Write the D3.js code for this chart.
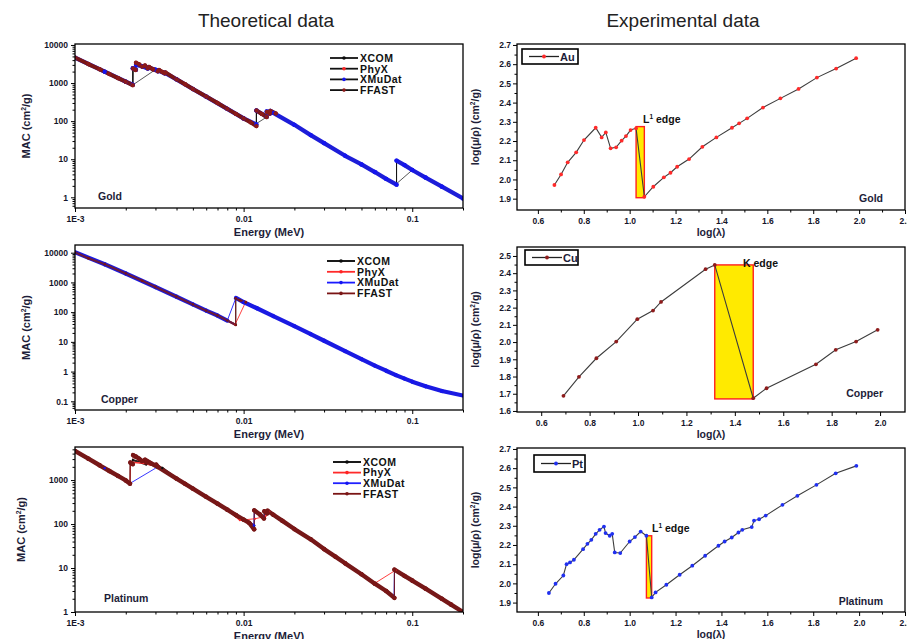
<!DOCTYPE html>
<html>
<head>
<meta charset="utf-8">
<script src="https://cdn.jsdelivr.net/npm/d3@7"></script>
<style>
  body { margin: 0; background: #fff; }
  text { font-family: "Liberation Sans", Arial, sans-serif; }
</style>
</head>
<body>
<script>
// ---------- data ----------
const seriesNames = ["XCOM", "PhyX", "XMuDat", "FFAST"];
const energyTicks = [0.001, 0.01, 0.1];
const energyTickLabels = ["1E-3", "0.01", "0.1"];

// gold, [energy MeV, MAC cm2/g]
const auXcom = [[0.001,4650],[0.0015,1985],[0.002,1085],[0.002206,890],[0.002206,2450],[0.002291,2250],[0.002291,3050],[0.0025,2750],[0.002743,2400],[0.002743,2600],[0.003,2250],[0.003148,2050],[0.003148,2150],[0.003425,1800],[0.003425,1870],[0.004,1250],[0.005,700],[0.006,441],[0.008,210],[0.01,118],[0.01192,82],[0.01192,190],[0.01373,131],[0.01373,180],[0.01435,160],[0.01435,186],[0.015,165],[0.02,80],[0.03,26.5],[0.04,12.3],[0.05,7.3],[0.06,4.6],[0.08,2.2],[0.08072,2.15],[0.08072,9.2],[0.1,5.2],[0.15,1.9],[0.2,0.93]];
const auPhyx = [[0.001,4650],[0.0015,1985],[0.002,1085],[0.0022,890],[0.003,2250],[0.004,1250],[0.005,700],[0.006,441],[0.008,210],[0.01,118],[0.0118,84],[0.015,165],[0.02,80],[0.03,26.5],[0.04,12.3],[0.05,7.3],[0.06,4.6],[0.08,2.2],[0.1,5.2],[0.15,1.9],[0.2,0.93]];
const auXmudat = [[0.001,4650],[0.0015,1985],[0.002,1085],[0.0022,900],[0.0022,2450],[0.0023,2250],[0.0023,3000],[0.0025,2750],[0.0027,2400],[0.0027,2600],[0.003,2250],[0.0031,2050],[0.0031,2150],[0.0034,1800],[0.0034,1870],[0.004,1250],[0.005,700],[0.006,441],[0.008,210],[0.01,118],[0.0119,82],[0.0119,190],[0.0137,131],[0.0137,180],[0.0144,160],[0.0144,186],[0.015,165],[0.02,80],[0.025,43],[0.03,26.5],[0.04,12.3],[0.05,7.3],[0.06,4.6],[0.07,3.05],[0.0807,2.15],[0.0807,9.2],[0.09,7.0],[0.1,5.2],[0.12,3.3],[0.15,1.9],[0.2,0.93]];
const auFfast = [[0.001,4650],[0.0012,3150],[0.0014,2300],[0.0016,1730],[0.0018,1350],[0.002,1085],[0.0022,880],[0.00221,2400],[0.00229,2200],[0.0023,3400],[0.0024,3100],[0.0025,2700],[0.0026,2900],[0.0027,2450],[0.00275,2650],[0.0029,2300],[0.0031,2050],[0.00315,2200],[0.0033,1950],[0.0034,1800],[0.00344,1900],[0.004,1250],[0.0045,930],[0.005,700],[0.006,441],[0.007,300],[0.008,210],[0.009,155],[0.01,118],[0.011,93],[0.0119,74],[0.01192,190],[0.0128,155],[0.0137,128],[0.01375,175],[0.0143,158],[0.0144,186],[0.0155,160]];

// copper
const cuXcom = [[0.001,10300],[0.0015,4100],[0.002,2000],[0.003,700],[0.004,330],[0.005,182],[0.006,112],[0.008,52],[0.00898,38.5],[0.00898,280],[0.01,216],[0.015,74],[0.02,33.8],[0.03,10.9],[0.04,4.86],[0.05,2.61],[0.06,1.59],[0.08,0.763],[0.1,0.458],[0.15,0.222],[0.2,0.156]];
const cuPhyx = [[0.001,10300],[0.0015,4100],[0.002,2000],[0.003,700],[0.004,330],[0.005,182],[0.006,112],[0.008,52],[0.0089,38.5],[0.0103,222],[0.015,74],[0.02,33.8],[0.03,10.9],[0.04,4.86],[0.05,2.61],[0.06,1.59],[0.08,0.763],[0.1,0.458],[0.15,0.222],[0.2,0.156]];
const cuXmudat = [[0.001,10300],[0.0015,4100],[0.002,2000],[0.003,700],[0.004,330],[0.005,182],[0.006,112],[0.007,77],[0.008,52],[0.009,300],[0.01,216],[0.012,135],[0.015,74],[0.02,33.8],[0.025,18.3],[0.03,10.9],[0.04,4.86],[0.05,2.61],[0.06,1.59],[0.07,1.07],[0.08,0.763],[0.09,0.58],[0.1,0.458],[0.12,0.32],[0.15,0.222],[0.2,0.156]];
const cuFfast = [[0.001,10300],[0.0012,6500],[0.0015,4100],[0.002,2000],[0.0025,1130],[0.003,700],[0.004,330],[0.005,182],[0.006,112],[0.007,77],[0.008,52],[0.00898,37],[0.00898,290],[0.0095,250],[0.0103,215]];

// platinum
const ptXcom = [[0.001,4600],[0.0015,1860],[0.002,980],[0.002122,850],[0.002122,2500],[0.002202,2300],[0.002202,2850],[0.0025,2450],[0.002645,2250],[0.002645,2400],[0.003027,2050],[0.003027,2150],[0.003296,1850],[0.003296,1900],[0.004,1080],[0.005,640],[0.006,417],[0.008,212],[0.01,126],[0.01156,92],[0.01156,205],[0.01327,140],[0.01327,195],[0.01388,175],[0.01388,200],[0.015,163],[0.02,77],[0.03,27],[0.04,12.8],[0.05,7.2],[0.06,4.4],[0.07,3.0],[0.07839,2.2],[0.07839,9.2],[0.1,5.2],[0.15,2.0],[0.2,1.0]];
const ptPhyx = [[0.001,4600],[0.0015,1860],[0.002,980],[0.00212,850],[0.00213,2550],[0.0025,2450],[0.003,2100],[0.004,1080],[0.005,640],[0.006,417],[0.008,212],[0.0095,122],[0.0117,132],[0.0135,150],[0.0142,195],[0.015,163],[0.02,77],[0.03,27],[0.04,12.8],[0.05,7.2],[0.06,4.5],[0.08,9.0],[0.1,5.2],[0.15,2.0],[0.2,1.0]];
const ptXmudat = [[0.001,4600],[0.0015,1860],[0.002,980],[0.00212,840],[0.0031,2000],[0.004,1080],[0.005,640],[0.006,417],[0.008,212],[0.01,126],[0.0115,93],[0.0116,205],[0.0132,140],[0.0133,195],[0.0139,175],[0.01395,200],[0.015,163],[0.02,77],[0.025,45],[0.03,27],[0.04,12.8],[0.05,7.2],[0.06,4.4],[0.07,3.0],[0.078,2.2],[0.0785,9.2],[0.09,6.6],[0.1,5.2],[0.12,3.4],[0.15,2.0],[0.2,1.0]];
const ptFfast = [[0.001,4600],[0.0012,3060],[0.0014,2170],[0.0016,1610],[0.0018,1240],[0.002,980],[0.00212,830],[0.00213,2500],[0.0022,2300],[0.00221,3700],[0.0023,3400],[0.0024,3050],[0.0025,2700],[0.0026,2900],[0.00265,2500],[0.00266,2750],[0.0028,2450],[0.003,2150],[0.00303,2250],[0.0031,2000],[0.004,1080],[0.0045,820],[0.005,640],[0.006,417],[0.007,292],[0.008,212],[0.009,160],[0.01,126],[0.0108,106],[0.01155,76],[0.01156,205],[0.0125,165],[0.0132,134],[0.01327,195],[0.0138,175],[0.01388,200],[0.015,163],[0.017,118],[0.02,77],[0.025,45],[0.03,27],[0.035,18.2],[0.04,12.8],[0.05,7.2],[0.06,4.4],[0.07,3.0],[0.0784,2.1],[0.07841,9.2],[0.09,6.6],[0.1,5.2],[0.12,3.4],[0.15,2.0],[0.17,1.48],[0.2,1.0]];

const auYTicks = [1, 10, 100, 1000, 10000];
const cuYTicks = [0.1, 1, 10, 100, 1000, 10000];
const ptYTicks = [1, 10, 100, 1000];

// experimental: log(lambda) and log(mu/rho)
const auLogL = [0.672,0.701,0.730,0.767,0.801,0.852,0.878,0.896,0.917,0.941,0.965,0.984,1.004,1.028,1.064,1.103,1.149,1.178,1.207,1.259,1.317,1.378,1.446,1.477,1.512,1.581,1.657,1.736,1.816,1.900,1.987];
const auLogMu = [1.971,2.026,2.089,2.141,2.205,2.269,2.219,2.245,2.162,2.167,2.202,2.226,2.257,2.266,1.910,1.962,2.011,2.035,2.066,2.106,2.170,2.219,2.269,2.292,2.318,2.374,2.422,2.471,2.530,2.577,2.631];
const auEdge = [1.028, 1.064, 1.905, 2.275];

const cuLogL = [0.692,0.756,0.828,0.910,0.997,1.062,1.095,1.279,1.317,1.476,1.531,1.735,1.817,1.901,1.990];
const cuLogMu = [1.688,1.798,1.906,2.003,2.133,2.183,2.233,2.423,2.448,1.674,1.732,1.871,1.955,2.003,2.071];
const cuEdge = [1.317, 1.476, 1.670, 2.448];

const ptLogL = [0.648,0.677,0.711,0.725,0.740,0.757,0.797,0.816,0.833,0.852,0.869,0.888,0.895,0.913,0.924,0.935,0.959,1.0,1.023,1.048,1.073,1.096,1.113,1.160,1.218,1.273,1.329,1.387,1.414,1.445,1.474,1.491,1.532,1.542,1.564,1.593,1.666,1.731,1.814,1.898,1.988];
const ptLogMu = [1.950,1.998,2.041,2.100,2.109,2.123,2.178,2.206,2.227,2.258,2.279,2.296,2.262,2.248,2.258,2.161,2.158,2.218,2.241,2.270,2.248,1.927,1.953,1.993,2.045,2.092,2.144,2.196,2.218,2.239,2.265,2.279,2.293,2.327,2.334,2.353,2.409,2.456,2.513,2.573,2.612];
const ptEdge = [1.073, 1.096, 1.924, 2.248];

const expXTicks = [0.6, 0.8, 1.0, 1.2, 1.4, 1.6, 1.8, 2.0, 2.2];
const cuXTicks = [0.6, 0.8, 1.0, 1.2, 1.4, 1.6, 1.8, 2.0];
const auYTicksE = [1.9, 2.0, 2.1, 2.2, 2.3, 2.4, 2.5, 2.6, 2.7];
const cuYTicksE = [1.6, 1.7, 1.8, 1.9, 2.0, 2.1, 2.2, 2.3, 2.4, 2.5];
const ptYTicksE = [1.9, 2.0, 2.1, 2.2, 2.3, 2.4, 2.5, 2.6, 2.7];

// ---------- page ----------
const width = 907, height = 639;
const svg = d3.select("body").append("svg")
    .attr("width", width)
    .attr("height", height);

const TH = { left: 75, right: 463 };
const EX = { left: 517, right: 905 };
const labelColor = "#1d1d38";
const tickColor = "#15152a";

// text with a superscript piece: parts = [[text, isSup], ...]
function richText(sel, parts, size) {
    parts.forEach(([t, sup], i) => {
        const prev = i > 0 && parts[i - 1][1];
        sel.append("tspan")
            .attr("dy", sup ? -size * 0.4 : (prev ? size * 0.4 : 0))
            .attr("font-size", sup ? size * 0.62 : size)
            .text(t);
    });
    return sel;
}

function styleAxis(g, fontSize) {
    g.select(".domain").remove();
    g.selectAll(".tick line").attr("stroke", "#000").attr("stroke-width", 1);
    g.selectAll(".tick text")
        .attr("font-size", fontSize)
        .attr("font-weight", "bold")
        .attr("fill", tickColor);
}

svg.append("text").attr("x", 266).attr("y", 27).attr("text-anchor", "middle")
    .attr("font-size", 19).attr("fill", "#222").text("Theoretical data");
svg.append("text").attr("x", 683).attr("y", 27).attr("text-anchor", "middle")
    .attr("font-size", 19).attr("fill", "#222").text("Experimental data");

function drawTheory(cfg) {
    const g = svg.append("g");
    const x = d3.scaleLog().domain([0.001, 0.2]).range([TH.left, TH.right]);
    const y = d3.scaleLog().domain(cfg.yDomain).range([cfg.bottom, cfg.top]);
    const line = d3.line().x(d => x(d[0])).y(d => y(d[1]));

    svg.append("clipPath").attr("id", "clip-" + cfg.id)
        .append("rect")
        .attr("x", TH.left).attr("y", cfg.top)
        .attr("width", TH.right - TH.left).attr("height", cfg.bottom - cfg.top);
    const plot = g.append("g").attr("clip-path", `url(#clip-${cfg.id})`);

    // thin connecting lines (edges show as thin jumps)
    cfg.series.forEach(s => {
        plot.append("path").datum(s.data)
            .attr("d", line)
            .attr("fill", "none")
            .attr("stroke", s.line)
            .attr("stroke-width", 0.9);
    });
    // dense-marker look on the falling parts
    cfg.series.forEach(s => {
        plot.append("g").selectAll("path")
            .data(d3.pairs(s.data).filter(([a, b]) => b[1] < a[1]))
            .join("path")
            .attr("d", line)
            .attr("fill", "none")
            .attr("stroke", s.band)
            .attr("stroke-width", s.bandW)
            .attr("stroke-linecap", "round");
    });
    cfg.series.forEach(s => {
        plot.append("g").selectAll("circle")
            .data(s.data)
            .join("circle")
            .attr("cx", d => x(d[0]))
            .attr("cy", d => y(d[1]))
            .attr("r", s.r)
            .attr("fill", s.marker);
    });

    // axes
    const isDecade = v => Math.abs(Math.log10(v) - Math.round(Math.log10(v))) < 1e-6;
    const xa = g.append("g").attr("transform", `translate(0,${cfg.bottom})`)
        .call(d3.axisBottom(x).tickValues(energyTicks)
            .tickFormat((d, i) => energyTickLabels[i]).tickSize(4).tickPadding(4));
    styleAxis(xa, 8.5);
    const xm = g.append("g").attr("transform", `translate(0,${cfg.bottom})`)
        .call(d3.axisBottom(x).tickValues(x.ticks().filter(v => !isDecade(v))).tickSize(2.5).tickFormat(""));
    styleAxis(xm, 8.5);
    const ya = g.append("g").attr("transform", `translate(${TH.left},0)`)
        .call(d3.axisLeft(y).tickValues(cfg.yTicks).tickFormat(d => String(d)).tickSize(4).tickPadding(3));
    styleAxis(ya, 8.5);
    const ym = g.append("g").attr("transform", `translate(${TH.left},0)`)
        .call(d3.axisLeft(y).tickValues(y.ticks().filter(v => !isDecade(v))).tickSize(2.5).tickFormat(""));
    styleAxis(ym, 8.5);

    g.append("rect")
        .attr("x", TH.left).attr("y", cfg.top)
        .attr("width", TH.right - TH.left).attr("height", cfg.bottom - cfg.top)
        .attr("fill", "none").attr("stroke", "#000").attr("stroke-width", 1.3);

    // legend
    cfg.series.forEach((s, i) => {
        const ly = cfg.legend[1] + i * cfg.legend[2];
        g.append("line")
            .attr("x1", cfg.legend[0]).attr("x2", cfg.legend[0] + 28)
            .attr("y1", ly).attr("y2", ly)
            .attr("stroke", cfg.legendBlack ? "#111" : s.line).attr("stroke-width", 1.8);
        g.append("circle").attr("cx", cfg.legend[0] + 14).attr("cy", ly).attr("r", 1.8).attr("fill", s.marker);
        g.append("text")
            .attr("x", cfg.legend[0] + 30).attr("y", ly + 3.8)
            .attr("font-size", 10.5).attr("font-weight", "bold")
            .attr("letter-spacing", 0.5).attr("fill", "#111")
            .text(s.name);
    });

    g.append("text").attr("x", cfg.labelX).attr("y", cfg.labelY)
        .attr("font-size", 10.5).attr("font-weight", "bold").attr("fill", labelColor)
        .text(cfg.label);

    g.append("text").attr("x", (TH.left + TH.right) / 2).attr("y", cfg.bottom + 28)
        .attr("text-anchor", "middle").attr("font-size", 11).attr("font-weight", "bold")
        .attr("fill", labelColor).text("Energy (MeV)");
    richText(g.append("text")
        .attr("transform", `translate(${cfg.yTitleX},${(cfg.top + cfg.bottom) / 2}) rotate(-90)`)
        .attr("text-anchor", "middle").attr("font-weight", "bold").attr("fill", labelColor),
        [["MAC (cm", 0], ["2", 1], ["/g)", 0]], 11);
}

function drawExp(cfg) {
    const g = svg.append("g");
    const x = d3.scaleLinear().domain(cfg.xDomain).range([EX.left, EX.right]);
    const y = d3.scaleLinear().domain(cfg.yDomain).range([cfg.bottom, cfg.top]);
    const pts = cfg.xs.map((v, i) => [v, cfg.ys[i]]);

    g.append("rect")
        .attr("x", x(cfg.edge[0])).attr("y", y(cfg.edge[3]))
        .attr("width", x(cfg.edge[1]) - x(cfg.edge[0]))
        .attr("height", y(cfg.edge[2]) - y(cfg.edge[3]))
        .attr("fill", "#ffea00").attr("stroke", "#ff2020").attr("stroke-width", 1.4);

    g.append("path").datum(pts)
        .attr("d", d3.line().x(d => x(d[0])).y(d => y(d[1])))
        .attr("fill", "none").attr("stroke", "#3c3c3c").attr("stroke-width", 1.1);
    g.append("g").selectAll("circle")
        .data(pts).join("circle")
        .attr("cx", d => x(d[0])).attr("cy", d => y(d[1]))
        .attr("r", 1.9).attr("fill", cfg.color);

    const fmt = d3.format(".1f");
    const xa = g.append("g").attr("transform", `translate(0,${cfg.bottom})`)
        .call(d3.axisBottom(x).tickValues(cfg.xTicks).tickFormat(fmt).tickSize(4).tickPadding(4));
    styleAxis(xa, 8.5);
    const xMinor = d3.pairs(cfg.xTicks).map(([a, b]) => (a + b) / 2);
    const xm = g.append("g").attr("transform", `translate(0,${cfg.bottom})`)
        .call(d3.axisBottom(x).tickValues(xMinor).tickSize(2.5).tickFormat(""));
    styleAxis(xm, 8.5);
    const ya = g.append("g").attr("transform", `translate(${EX.left},0)`)
        .call(d3.axisLeft(y).tickValues(cfg.yTicks).tickFormat(fmt).tickSize(4).tickPadding(2));
    styleAxis(ya, 8.5);
    const yMinor = d3.pairs(cfg.yTicks).map(([a, b]) => (a + b) / 2);
    const ym = g.append("g").attr("transform", `translate(${EX.left},0)`)
        .call(d3.axisLeft(y).tickValues(yMinor).tickSize(2.5).tickFormat(""));
    styleAxis(ym, 8.5);

    g.append("rect")
        .attr("x", EX.left).attr("y", cfg.top)
        .attr("width", EX.right - EX.left).attr("height", cfg.bottom - cfg.top)
        .attr("fill", "none").attr("stroke", "#000").attr("stroke-width", 1.3);

    // legend box
    const [bx, by, bw, bh] = cfg.legendBox;
    g.append("rect").attr("x", bx).attr("y", by).attr("width", bw).attr("height", bh)
        .attr("fill", "#fff").attr("stroke", "#000").attr("stroke-width", 1.6);
    g.append("line")
        .attr("x1", bx + 7).attr("x2", bx + 37)
        .attr("y1", by + bh / 2).attr("y2", by + bh / 2)
        .attr("stroke", "#222").attr("stroke-width", 1.3);
    g.append("circle").attr("cx", bx + 22).attr("cy", by + bh / 2).attr("r", 1.9).attr("fill", cfg.color);
    g.append("text").attr("x", bx + 38).attr("y", by + bh / 2 + 4)
        .attr("font-size", 11).attr("font-weight", "bold").attr("fill", labelColor).text(cfg.name);

    richText(g.append("text").attr("x", cfg.edgeLabel[0]).attr("y", cfg.edgeLabel[1])
        .attr("font-weight", "bold").attr("fill", "#111"), cfg.edgeText, 10.5);

    g.append("text").attr("x", EX.right - 22).attr("y", cfg.labelY).attr("text-anchor", "end")
        .attr("font-size", 10.5).attr("font-weight", "bold").attr("fill", labelColor).text(cfg.label);

    g.append("text").attr("x", (EX.left + EX.right) / 2).attr("y", cfg.bottom + 26)
        .attr("text-anchor", "middle").attr("font-size", 10.5).attr("font-weight", "bold")
        .attr("fill", labelColor).text("log(λ)");
    richText(g.append("text")
        .attr("transform", `translate(479,${(cfg.top + cfg.bottom) / 2}) rotate(-90)`)
        .attr("text-anchor", "middle").attr("font-weight", "bold").attr("fill", labelColor),
        [["log(μ/ρ) (cm", 0], ["2", 1], ["/g)", 0]], 10.5);
}

const colors = { xcom: "#0c0c0c", phyx: "#ff2424", xmudat: "#1414f0", ffast: "#7a1616" };

drawTheory({
    id: "au", top: 44, bottom: 208, yDomain: [0.524, 10600], yTicks: auYTicks,
    label: "Gold", labelX: 98, labelY: 200, yTitleX: 30,
    legend: [330, 58, 10.7], legendBlack: true,
    series: [
        { name: seriesNames[0], data: auXcom, line: "#111", band: "#222", bandW: 2, marker: colors.xcom, r: 1.1 },
        { name: seriesNames[1], data: auPhyx, line: "#444", band: "#d82020", bandW: 1.6, marker: colors.phyx, r: 1.1 },
        { name: seriesNames[2], data: auXmudat, line: "#111", band: "#1d1dd8", bandW: 4.2, marker: colors.xmudat, r: 2.2 },
        { name: seriesNames[3], data: auFfast, line: "#111", band: "#7a1616", bandW: 4, marker: "#8b1a1a", r: 2.2 }
    ]
});
drawTheory({
    id: "cu", top: 245, bottom: 410, yDomain: [0.051, 18150], yTicks: cuYTicks,
    label: "Copper", labelX: 101, labelY: 403, yTitleX: 30,
    legend: [327, 261, 10.8], legendBlack: false,
    series: [
        { name: seriesNames[0], data: cuXcom, line: "#000", band: "#222", bandW: 1.8, marker: colors.xcom, r: 1 },
        { name: seriesNames[1], data: cuPhyx, line: "#ff2a2a", band: "#ff3a3a", bandW: 1.6, marker: colors.phyx, r: 1 },
        { name: seriesNames[2], data: cuXmudat, line: "#1a1aff", band: "#1a1ae2", bandW: 4.2, marker: colors.xmudat, r: 1.6 },
        { name: seriesNames[3], data: cuFfast, line: "#7a1414", band: "#6c1a3c", bandW: 2.2, marker: colors.ffast, r: 1.4 }
    ]
});
drawTheory({
    id: "pt", top: 447, bottom: 612, yDomain: [1, 5650], yTicks: ptYTicks,
    label: "Platinum", labelX: 104, labelY: 602, yTitleX: 25,
    legend: [333, 462, 10.6], legendBlack: false,
    series: [
        { name: seriesNames[0], data: ptXcom, line: "#000", band: "#222", bandW: 2, marker: colors.xcom, r: 1 },
        { name: seriesNames[1], data: ptPhyx, line: "#ff2a2a", band: "#ff3a3a", bandW: 1.6, marker: colors.phyx, r: 1 },
        { name: seriesNames[2], data: ptXmudat, line: "#2020ff", band: "#2a2ae0", bandW: 3, marker: colors.xmudat, r: 1.2 },
        { name: seriesNames[3], data: ptFfast, line: "#7a1414", band: "#761818", bandW: 4.4, marker: colors.ffast, r: 2.2 }
    ]
});

drawExp({
    top: 44, bottom: 210, xDomain: [0.509, 2.2], yDomain: [1.841, 2.705],
    xs: auLogL, ys: auLogMu, edge: auEdge, color: "#ff2a2a",
    xTicks: expXTicks, yTicks: auYTicksE, name: "Au", label: "Gold", labelY: 202,
    legendBox: [522, 49, 56, 15], edgeLabel: [643, 123], edgeText: [["L", 0], ["1", 1], [" edge", 0]]
});
drawExp({
    top: 247, bottom: 412, xDomain: [0.5, 2.103], yDomain: [1.594, 2.552],
    xs: cuLogL, ys: cuLogMu, edge: cuEdge, color: "#8e1c1c",
    xTicks: cuXTicks, yTicks: cuYTicksE, name: "Cu", label: "Copper", labelY: 397,
    legendBox: [525, 250, 53, 15], edgeLabel: [743, 267], edgeText: [["K edge", 0]]
});
drawExp({
    top: 448, bottom: 612, xDomain: [0.509, 2.2], yDomain: [1.851, 2.705],
    xs: ptLogL, ys: ptLogMu, edge: ptEdge, color: "#2030f0",
    xTicks: expXTicks, yTicks: ptYTicksE, name: "Pt", label: "Platinum", labelY: 605,
    legendBox: [534, 455, 51, 17], edgeLabel: [652, 532], edgeText: [["L", 0], ["1", 1], [" edge", 0]]
});
</script>
</body>
</html>
